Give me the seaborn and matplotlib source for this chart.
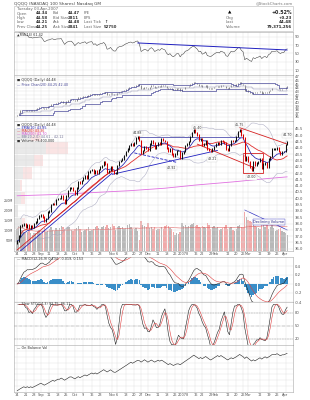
import numpy as np
import pandas as pd
import matplotlib
matplotlib.use("Agg")
import matplotlib.pyplot as plt
import seaborn as sns

# Daily data, QQQQ 14-Aug-2006 .. 03-Apr-2007
holidays = ['2006-09-04', '2006-11-23', '2006-12-25', '2007-01-01', '2007-01-02',
            '2007-01-15', '2007-02-19']
closes = [36.6, 37.0, 37.8, 37.9, 38.0,
          37.7, 37.9, 37.6, 37.8, 37.7,
          38.0, 38.1, 38.4, 38.6, 38.7,
          38.5, 38.2, 38.4, 38.9,
          39.0, 39.5, 39.6, 39.5, 39.9,
          40.0, 40.0, 40.2, 39.9, 39.6,
          40.2, 40.6, 40.8, 40.8, 40.6,
          40.3, 40.8, 41.3, 41.2, 41.4,
          41.6, 41.8, 41.6, 42.1, 42.2,
          42.3, 42.0, 42.2, 42.0, 42.3,
          42.5, 42.6, 42.9, 42.7, 42.1,
          42.2, 42.5, 42.2, 42.0, 42.0,
          42.6, 42.9, 43.0, 43.1, 43.4,
          43.7, 43.9, 44.2, 44.3, 44.2,
          44.4, 44.8, 44.9, 44.6,
          43.6, 43.8, 44.1, 44.0, 43.8,
          44.3, 44.6, 44.4, 44.0, 44.2,
          44.4, 44.3, 44.7, 44.6, 44.5,
          44.0, 43.7, 43.9, 43.5, 43.3,
          43.5, 43.8, 43.8, 43.2,
          43.6, 43.7, 44.2,
          44.3, 44.5, 44.9, 45.2, 45.4,
          45.2, 45.0, 44.6, 44.7,
          44.2, 44.3, 44.6, 43.9, 43.8,
          43.7, 43.9, 44.1, 44.3, 44.4,
          44.3, 44.6, 44.5, 44.4, 43.9,
          43.8, 44.2, 44.6, 44.5, 44.6,
          44.9, 45.3, 45.4, 45.0,
          44.8, 43.0, 43.3, 42.9, 42.5,
          42.2, 42.9, 42.6, 42.8, 42.9,
          43.1, 42.4, 42.7, 42.8, 42.5,
          43.1, 43.3, 43.9, 43.9, 43.9,
          44.0, 43.7, 43.5, 43.7, 43.7,
          44.25, 44.48]
volumes = [110, 125, 120, 105, 95,
           90, 95, 100, 92, 80,
           88, 92, 100, 105, 85,
           100, 115, 95, 98,
           110, 120, 105, 100, 115,
           105, 115, 125, 120, 110,
           115, 120, 118, 105, 100,
           110, 115, 125, 110, 95,
           98, 105, 110, 120, 100,
           105, 112, 118, 125, 115,
           110, 120, 125, 118, 130,
           115, 120, 135, 125, 105,
           118, 125, 115, 120, 110,
           115, 128, 135, 120, 112,
           110, 115, 100, 55,
           150, 130, 125, 120, 140,
           115, 120, 112, 118, 105,
           108, 112, 118, 110, 125,
           130, 125, 115, 110, 95,
           80, 90, 85, 95,
           140, 125, 130,
           120, 125, 130, 135, 140,
           125, 130, 120, 115,
           125, 120, 115, 140, 130,
           110, 120, 125, 115, 118,
           105, 110, 115, 120, 130,
           110, 115, 120, 105, 100,
           110, 125, 130, 120,
           120, 195, 170, 155, 150,
           145, 140, 125, 120, 115,
           110, 150, 135, 120, 140,
           110, 120, 140, 115, 100,
           105, 110, 115, 100, 95,
           90, 79.4]

# 200-day average at a few dates
ma200_dates = ['2006-08-14', '2006-09-15', '2006-10-16', '2006-11-15', '2006-12-15',
               '2007-01-16', '2007-02-15', '2007-03-15', '2007-04-03']
ma200_vals = [40.2, 40.3, 40.45, 40.6, 40.8, 41.05, 41.3, 41.55, 41.7]

# annotations on the price panel
peak_labels = [('2006-11-22', 45.15, '44.88'), ('2007-01-17', 45.6, '45.40'),
               ('2007-02-22', 45.85, '45.75'), ('2007-04-03', 45.0, '44.70')]
low_labels = [('2006-12-21', 42.4, '42.92'), ('2007-01-30', 43.1, '43.21'),
              ('2007-03-05', 41.65, '42.00')]
trend_lines = [  # (start date, start price, end date, end price, colour, style)
    ('2006-08-11', 35.9, '2006-11-01', 42.25, '#d42020', '-'),
    ('2006-08-11', 35.6, '2006-11-01', 42.0, '#2020c0', '-'),
    ('2006-11-01', 41.9, '2007-02-02', 43.8, '#2020c0', '-'),
    ('2006-11-20', 43.6, '2006-12-27', 42.85, '#2020c0', '--'),
    ('2006-11-22', 44.9, '2007-02-22', 44.9, '#5050b0', '-'),
    ('2007-01-17', 44.3, '2007-03-07', 42.4, '#d42020', '-'),
    ('2007-02-22', 45.6, '2007-04-05', 44.3, '#d42020', '-'),
]
box_dates = ('2007-02-26', '2007-03-14')
box_prices = (42.0, 43.6)

# header values
hdr_left = [('Open', '44.34', 'Bid', '44.47', 'P/E', ''),
            ('High', '44.58', 'Bid Size', '2811', 'EPS', ''),
            ('Low', '44.21', 'Ask', '44.48', 'Last Tick', '\u2191'),
            ('Prev Close', '44.25', 'Ask Size', '2841', 'Last Size', '52750')]
hdr_right = [('Chg', '+0.23'), ('Last', '44.48'), ('Volume', '79,371,256')]

# ---------------------------------------------------------------- derived series
dates = pd.bdate_range('2006-08-14', '2007-04-03', freq='C', holidays=holidays)
px = pd.Series(closes, index=dates)
vol = pd.Series(volumes, index=dates)
idx = np.arange(len(px))


def didx(s):
    d = pd.Timestamp(s)
    return np.interp(d.value, dates.asi8, idx)


opens = px.shift(1).fillna(px.iloc[0] - 0.2)
up = px >= px.shift(1).fillna(0)
ema10 = px.ewm(span=10, adjust=False).mean()
ma20 = px.rolling(20, min_periods=3).mean()
sd20 = px.rolling(20, min_periods=3).std()
bb_up, bb_lo = ma20 + 2 * sd20, ma20 - 2 * sd20
ch_hi = px.rolling(20, min_periods=1).max().shift(1)
ch_lo = px.rolling(20, min_periods=1).min().shift(1)
delta = px.diff()
gain = delta.clip(lower=0).ewm(alpha=1 / 14, adjust=False).mean()
loss = (-delta.clip(upper=0)).ewm(alpha=1 / 14, adjust=False).mean()
rsi = 100 - 100 / (1 + gain / loss)
macd = px.ewm(span=12, adjust=False).mean() - px.ewm(span=26, adjust=False).mean()
signal = macd.ewm(span=9, adjust=False).mean()
hist = macd - signal
lo14 = px.rolling(14, min_periods=2).min()
hi14 = px.rolling(14, min_periods=2).max()
fast_k = 100 * (px - lo14) / (hi14 - lo14)
slow_k = fast_k.rolling(3, min_periods=1).mean()
slow_d = slow_k.rolling(3, min_periods=1).mean()
obv = (np.sign(delta.fillna(0)) * vol).cumsum()
zones = np.arange(35.5, 46.6, 1.0)
zone_of = np.digitize(px.values, zones) - 1
vbp_up = np.array([vol[(zone_of == z) & up.values].sum() for z in range(len(zones) - 1)])
vbp_dn = np.array([vol[(zone_of == z) & ~up.values].sum() for z in range(len(zones) - 1)])

# date ticks: first day of each week and month
month_ticks = [i for i in idx if i == 0 or dates[i].month != dates[i - 1].month]
week_ticks = [i for i in idx if i == 0 or dates[i].weekday() < dates[i - 1].weekday()]
ticks, labels = [], []
for i in sorted(set(month_ticks) | set(week_ticks)):
    if i in month_ticks and i != 0:
        ticks.append(i)
        labels.append('2007' if dates[i].month == 1 else dates[i].strftime('%b'))
    elif all(abs(i - m) > 2 for m in month_ticks if m != 0):
        ticks.append(i)
        labels.append(str(dates[i].day))

# ---------------------------------------------------------------- figure
sns.set_theme(style="white")
plt.rcParams['font.family'] = ['DejaVu Sans']
W, H = 310, 400
fig = plt.figure(figsize=(W / 100, H / 100), dpi=100)
fig.patch.set_facecolor('white')
XMIN, XMAX = -1.8, 162.4
GRID = '#dedede'
FS = 2.7


def panel(y0, y1, z=1):
    ax = fig.add_axes([14 / W, 1 - y1 / H, 279 / W, (y1 - y0) / H])
    ax.set_zorder(z)
    return ax


def style(ax, yticks, fmt, xlab=False, ylim=None):
    ax.set_xlim(XMIN, XMAX)
    if ylim:
        ax.set_ylim(*ylim)
    ax.set_xticks(ticks)
    ax.set_xticklabels(labels if xlab else [])
    ax.set_yticks(yticks)
    ax.set_yticklabels([fmt.format(v) for v in yticks])
    ax.yaxis.tick_right()
    ax.tick_params(length=0, labelsize=FS, colors='#505050', pad=1.2)
    ax.grid(True, color=GRID, linewidth=0.3)
    ax.set_xlabel('')
    ax.set_ylabel('')
    for s in ax.spines.values():
        s.set_color('#a8a8a8')
        s.set_linewidth(0.4)


def legend(ax, rows, y0=0.97, dy=0.09):
    for k, (txt, col) in enumerate(rows):
        ax.text(0.012, y0 - k * dy, txt, transform=ax.transAxes, fontsize=FS - 0.3,
                color=col, va='top', ha='left', zorder=10)


# header
fig.text(14 / W, 1 - 3.5 / H, 'QQQQ (NASDAQ 100 Shares) Nasdaq GM', fontsize=3.1,
         color='#444444', va='center')
fig.text(293 / W, 1 - 3.5 / H, '@StockCharts.com', fontsize=2.8, color='#777777',
         va='center', ha='right')
fig.patches.append(plt.Rectangle((14 / W, 1 - 31 / H), 279 / W, 24.5 / H,
                                 transform=fig.transFigure, facecolor='white',
                                 edgecolor='#b8b8b8', linewidth=0.4))
fig.text(17 / W, 1 - 9 / H, 'Tuesday 03-Apr-2007', fontsize=2.8, color='#666666', va='center')
for r, row in enumerate(hdr_left):
    yy = 1 - (13.5 + 4.4 * r) / H
    for c, xx in enumerate([17, 36, 53, 68, 84, 104]):
        fig.text(xx / W, yy, row[c], fontsize=2.8, va='center',
                 color='#333333' if c % 2 else '#666666',
                 fontweight='bold' if c % 2 else 'normal')
fig.text(228 / W, 1 - 13 / H, '\u25b2', fontsize=3.2, va='center', color='black')
fig.text(292 / W, 1 - 13 / H, '+0.52%', fontsize=3.4, va='center', ha='right',
         fontweight='bold')
for r, (k, v) in enumerate(hdr_right):
    yy = 1 - (18 + 4.4 * r) / H
    fig.text(226 / W, yy, k, fontsize=2.8, va='center', color='#666666')
    fig.text(292 / W, yy, v, fontsize=2.9, va='center', ha='right', fontweight='bold')

# RSI panel
ax_rsi = panel(32, 75)
sns.lineplot(x=idx, y=rsi.values, ax=ax_rsi, color='#303030', linewidth=0.35)
ax_rsi.plot([didx('2006-11-22'), didx('2007-04-03')], [75.5, 58.5], color='#2020c0',
            linewidth=0.7)
style(ax_rsi, [10, 30, 50, 70, 90], '{:.0f}', ylim=(-2, 102))
legend(ax_rsi, [(f'\u25b2RSI(14) {rsi.iloc[-1]:.2f}', '#333333')], y0=0.99)

# price channel panel
ax_pc = panel(75, 121)
ax_pc.vlines(idx, np.minimum(opens, px), np.maximum(opens, px) + 0.05,
             colors='#303030', linewidth=0.4)
sns.lineplot(x=idx, y=ch_hi.values, ax=ax_pc, color='#4a4a9a', linewidth=0.5,
             drawstyle='steps-post')
sns.lineplot(x=idx, y=ch_lo.values, ax=ax_pc, color='#4a4a9a', linewidth=0.5,
             drawstyle='steps-post')
sns.lineplot(x=idx, y=((ch_hi + ch_lo) / 2).values, ax=ax_pc, color='#9898b8',
             linewidth=0.35, drawstyle='steps-post')
style(ax_pc, list(range(36, 48)), '{:.0f}', ylim=(34.9, 47.5))
legend(ax_pc, [(f'\u25a0 QQQQ (Daily) {px.iloc[-1]:.2f}', '#333333'),
               (f'\u2014 Price Chan(20) {ch_hi.iloc[-1]:.2f} {ch_lo.iloc[-1]:.2f}',
                '#4a4a9a')], y0=0.93, dy=0.1)

# main price panel with volume and volume-by-price overlays
ax_vol = panel(121, 251, z=1)
ax_vbp = panel(121, 251, z=2)
ax_px = panel(121, 251, z=3)
ax_px.patch.set_alpha(0)
ax_vbp.patch.set_alpha(0)
vcol = np.where(up, '#b8b8b8', '#f2a9a9')
ax_vol.bar(idx, vol.values, width=0.8, color=vcol, linewidth=0)
sns.lineplot(x=idx, y=vol.rolling(50, min_periods=1).mean().values, ax=ax_vol,
             color='#e06060', linewidth=0.4)
ax_vol.set_xlim(XMIN, XMAX)
ax_vol.set_ylim(0, 650)
ax_vol.set_yticks([50, 100, 150, 200, 250])
ax_vol.set_yticklabels(['50M', '100M', '150M', '200M', '250M'])
ax_vol.set_xticks([])
ax_vol.tick_params(length=0, labelsize=FS - 0.3, colors='#505050', pad=0.5)
ax_vol.set_ylabel('')
for s in ax_vol.spines.values():
    s.set_visible(False)
ax_vol.plot([didx('2007-02-27'), didx('2007-04-03')], [205, 105], color='#3030c0',
            linewidth=0.5)
ax_vol.text(didx('2007-03-19'), 145, 'Declining Volume', fontsize=FS - 0.2, color='#202080',
            ha='center', va='center',
            bbox=dict(boxstyle='square,pad=0.15', fc='white', ec='#3030c0', lw=0.3))

mid = (zones[:-1] + zones[1:]) / 2
ax_vbp.barh(mid, vbp_up, height=0.92, color='#d0d0d0', alpha=0.45, linewidth=0)
ax_vbp.barh(mid, vbp_dn, left=vbp_up, height=0.92, color='#f4c4c4', alpha=0.45,
            linewidth=0)
ax_vbp.set_xlim(0, (vbp_up + vbp_dn).max() * 5.2)
ax_vbp.set_ylim(35.82, 46.13)
ax_vbp.axis('off')

ccol = np.where(up, '#101010', '#d80000')
ax_px.vlines(idx, np.minimum(opens, px) - 0.06, np.maximum(opens, px) + 0.06,
             colors=ccol, linewidth=0.75, zorder=4)
ma200_x = [didx(d) for d in ma200_dates]
sns.lineplot(x=ma200_x, y=ma200_vals, ax=ax_px, color='#e070e0', linewidth=0.6)
sns.lineplot(x=idx, y=bb_up.values, ax=ax_px, color='#a8a8c0', linewidth=0.35)
sns.lineplot(x=idx, y=bb_lo.values, ax=ax_px, color='#a8a8c0', linewidth=0.35)
sns.lineplot(x=idx, y=ma20.values, ax=ax_px, color='#e03030', linewidth=0.6)
sns.lineplot(x=idx, y=ema10.values, ax=ax_px, color='#2020b0', linewidth=0.55)
for d0, p0, d1, p1, col, ls in trend_lines:
    ax_px.plot([didx(d0), didx(d1)], [p0, p1], color=col, linewidth=0.6, linestyle=ls)
b0, b1 = didx(box_dates[0]), didx(box_dates[1])
ax_px.add_patch(plt.Rectangle((b0, box_prices[0]), b1 - b0, box_prices[1] - box_prices[0],
                              fill=False, edgecolor='#d42020', linewidth=0.6))
for d, p, t in peak_labels + low_labels:
    ax_px.text(didx(d), p, t, fontsize=FS - 0.4, ha='center', va='center', color='#333333',
               bbox=dict(boxstyle='square,pad=0.1', fc='white', ec='#c0c0c0', lw=0.2))
style(ax_px, list(np.arange(36.0, 46.0, 0.5)), '{:.1f}', xlab=True, ylim=(35.82, 46.13))
ax_px.tick_params(axis='x', pad=0.5, labelsize=FS - 0.2)
legend(ax_px, [(f'\u25a0 QQQQ (Daily) {px.iloc[-1]:.2f}', '#333333'),
               (f'\u2014 EMA(10) {ema10.iloc[-1]:.2f}', '#2020b0'),
               (f'\u2014 MA(20) {ma20.iloc[-1]:.2f}', '#e03030'),
               (f'\u2014 MA(200) {ma200_vals[-1]:.2f}', '#d050d0'),
               (f'\u2014 BB(20,2.0) {bb_up.iloc[-1]:.2f} - {bb_lo.iloc[-1]:.2f}', '#777799'),
               (f'\u25a0 Volume {volumes[-1] * 1e6:,.0f}', '#333333')], y0=0.985, dy=0.024)

# MACD panel
ax_m = panel(257, 302)
ax_m.bar(idx, hist.values, width=0.9, color='#3a8ec8', linewidth=0)
sns.lineplot(x=idx, y=macd.values, ax=ax_m, color='#202020', linewidth=0.4)
sns.lineplot(x=idx, y=signal.values, ax=ax_m, color='#e04040', linewidth=0.4)
style(ax_m, [-0.4, -0.2, 0.0, 0.2, 0.4], '{:.1f}', ylim=(-0.4, 0.6))
legend(ax_m, [(f'\u2014 MACD(12,26,9) {macd.iloc[-1]:.3f}, {signal.iloc[-1]:.3f}, '
               f'{hist.iloc[-1]:.3f}', '#333333')], y0=0.99)

# slow stochastics panel
ax_s = panel(302, 345)
for lvl, ls in [(20, '--'), (50, '-.'), (80, '--')]:
    ax_s.axhline(lvl, color='#a0a0a0', linewidth=0.35, linestyle=ls)
sns.lineplot(x=idx, y=slow_k.values, ax=ax_s, color='#202020', linewidth=0.4)
sns.lineplot(x=idx, y=slow_d.values, ax=ax_s, color='#e04040', linewidth=0.4)
style(ax_s, [20, 50, 80], '{:.0f}', ylim=(6, 105.4))
legend(ax_s, [(f'\u2014 Slow STO(14,3) {slow_k.iloc[-1]:.2f}, {slow_d.iloc[-1]:.2f}',
               '#333333')], y0=0.99)

# on balance volume panel
ax_o = panel(345, 392)
sns.lineplot(x=idx, y=obv.values, ax=ax_o, color='#202020', linewidth=0.4)
lo_o, hi_o = obv.min(), obv.max()
o_lim = (lo_o - 0.03 * (hi_o - lo_o), hi_o + 0.22 * (hi_o - lo_o))
style(ax_o, list(np.linspace(o_lim[0], o_lim[1], 9)[1:-1]), '{:.0f}', xlab=True, ylim=o_lim)
ax_o.set_yticklabels([])
ax_o.tick_params(axis='x', pad=0.5, labelsize=FS - 0.2)
legend(ax_o, [('\u2014 On Balance Vol', '#333333')], y0=0.97)

fig.savefig('out.png', dpi=100, facecolor='white')
